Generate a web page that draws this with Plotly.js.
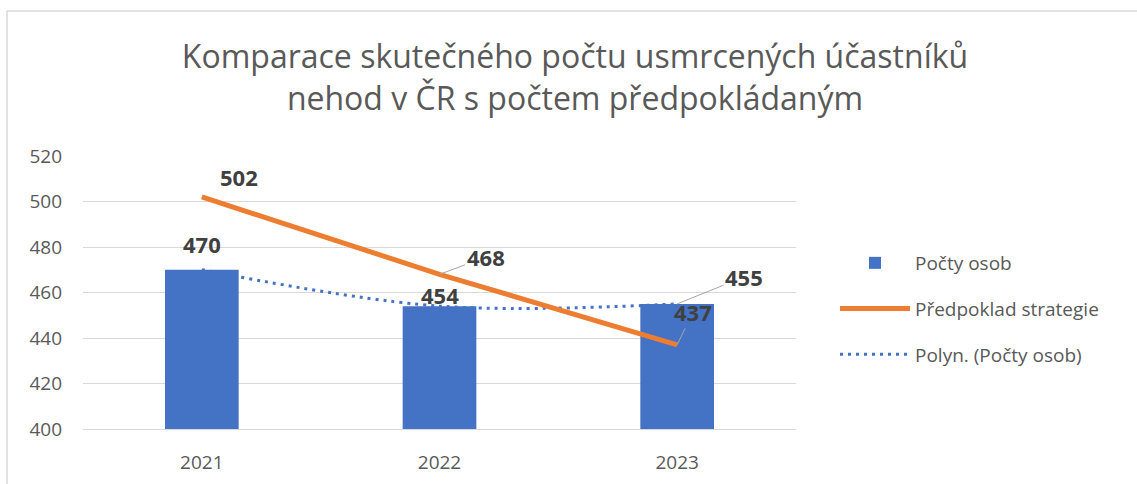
<!DOCTYPE html>
<html>
<head>
<meta charset="utf-8">
<script src="https://cdn.plot.ly/plotly-3.0.1.min.js"></script>
<style>html,body{margin:0;padding:0;background:#fff;}#chart{width:1137px;height:484px;}</style>
</head>
<body>
<div id="chart"></div>
<script>
const years = ['2021', '2022', '2023'];
const actualDeaths = [470, 454, 455];
const strategyForecast = [502, 468, 437];
const seriesNames = ['Počty osob', 'Předpoklad strategie', 'Polyn. (Počty osob)'];
const titleLines = ['Komparace skutečného počtu usmrcených účastníků', 'nehod v ČR s počtem předpokládaným'];
const yTicks = [400, 420, 440, 460, 480, 500, 520];

const BLUE = '#4472C4', ORANGE = '#ED7D31', GRID = '#d9d9d9', TXT = '#595959', LBL = '#404040';
const FONT = 'Open Sans, sans-serif';

const traces = [
  {
    type: 'bar', x: years, y: actualDeaths, name: seriesNames[0],
    marker: {color: BLUE}, legendgroup: 'a', legendrank: 1, hoverinfo: 'skip'
  },
  {
    type: 'scatter', mode: 'lines', x: years, y: actualDeaths, name: seriesNames[2],
    line: {color: BLUE, width: 3, dash: '3px,5px', shape: 'spline', smoothing: 1},
    legendgroup: 'c', legendrank: 3, hoverinfo: 'skip'
  },
  {
    type: 'scatter', mode: 'lines', x: years, y: strategyForecast, name: seriesNames[1],
    line: {color: ORANGE, width: 5}, legendgroup: 'b', legendrank: 2, hoverinfo: 'skip'
  }
];

const labelFont = {family: FONT, size: 22, color: LBL};
const arrowStyle = {showarrow: true, arrowhead: 0, arrowwidth: 1, arrowcolor: '#a6a6a6', standoff: 0, startstandoff: 0};
// label offsets (styling only)
const barLabelPos = [{xshift: 0, yshift: 26}, {xshift: 0, yshift: 11}, {arrow: true, ax: 67, ay: -27}];
const lineLabelPos = [{xshift: 37, yshift: 20}, {arrow: true, ax: 46, ay: -17}, {arrow: true, ax: 16, ay: -33}];

// x is the category index of the year on the category axis
function makeLabel(catIndex, y, p) {
  const a = {x: catIndex, y: y, xref: 'x', yref: 'y', text: '<b>' + y + '</b>', font: labelFont};
  if (p.arrow) { Object.assign(a, arrowStyle, {ax: p.ax, ay: p.ay, axref: 'pixel', ayref: 'pixel'}); }
  else { Object.assign(a, {showarrow: false, xshift: p.xshift, yshift: p.yshift}); }
  return a;
}
const annotations = [];
years.forEach((yr, i) => annotations.push(makeLabel(i, actualDeaths[i], barLabelPos[i])));
years.forEach((yr, i) => annotations.push(makeLabel(i, strategyForecast[i], lineLabelPos[i])));

// outer chart-area border (top and left edges visible in frame)
const L = 83, R = 796, T = 156, B = 429;
const px = v => (v - L) / (R - L);
const py = v => (B - v) / (B - T);
const shapes = [
  {type: 'line', xref: 'paper', yref: 'paper', x0: px(7), x1: px(7), y0: py(484), y1: py(11), line: {color: GRID, width: 1.5}},
  {type: 'line', xref: 'paper', yref: 'paper', x0: px(7), x1: px(1137), y0: py(11), y1: py(11), line: {color: GRID, width: 1.5}}
];

const layout = {
  width: 1137, height: 484,
  paper_bgcolor: '#fff', plot_bgcolor: '#fff',
  margin: {l: L, r: 1137 - R, t: T, b: 484 - B, pad: 0},
  font: {family: FONT, color: TXT, size: 19},
  title: {
    text: titleLines.join('<br>'),
    font: {family: FONT, size: 32, color: TXT},
    x: 575 / 1137, xanchor: 'center', xref: 'container',
    y: 1 - 68 / 484, yanchor: 'top', yref: 'container'
  },
  bargap: 0.69,
  xaxis: {
    type: 'category', range: [-0.5, years.length - 0.5], autorange: false,
    showgrid: false, showline: true, linecolor: GRID, linewidth: 1,
    ticks: '', tickfont: {family: FONT, size: 19, color: TXT}, ticklabelstandoff: 16,
    fixedrange: true
  },
  yaxis: {
    range: [400, 520], autorange: false, tickvals: yTicks, showgrid: true, gridcolor: GRID, gridwidth: 1,
    zeroline: false, showline: false, ticks: '',
    tickfont: {family: FONT, size: 19, color: TXT}, ticklabelstandoff: 20, fixedrange: true
  },
  legend: {
    xref: 'container', yref: 'container', x: 835 / 1137, xanchor: 'left',
    y: 1 - 244 / 484, yanchor: 'top',
    font: {family: FONT, size: 19, color: TXT},
    tracegroupgap: 18, itemwidth: 70, bgcolor: 'rgba(0,0,0,0)'
  },
  annotations: annotations,
  shapes: shapes,
  hovermode: false
};

Plotly.newPlot('chart', traces, layout, {displayModeBar: false, staticPlot: true});
</script>
</body>
</html>
